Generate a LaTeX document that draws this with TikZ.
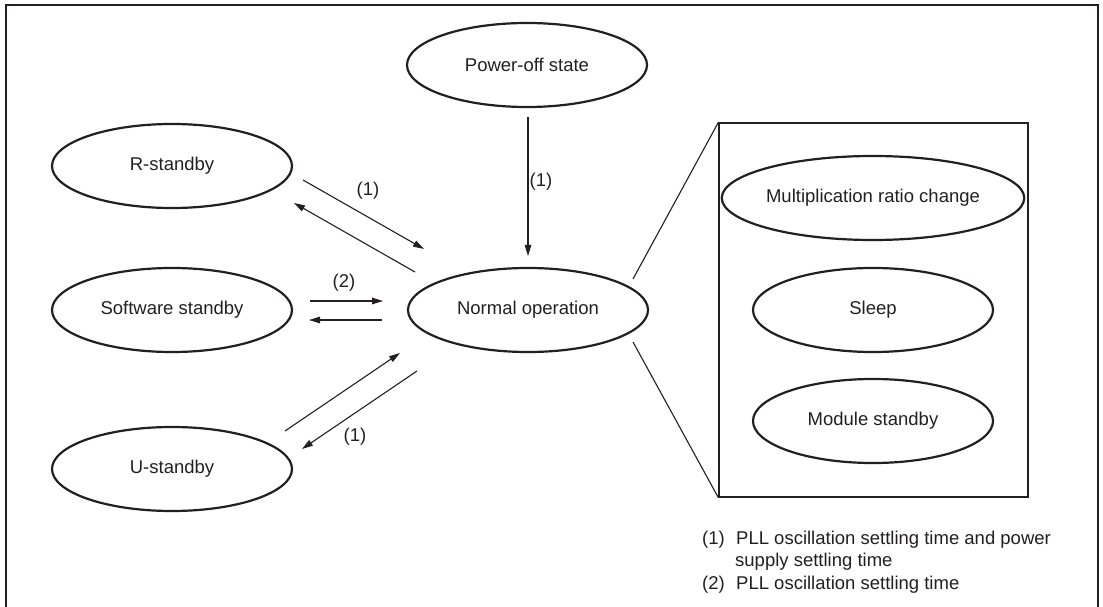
\documentclass[tikz,border=0pt]{standalone}
\usepackage{fontspec}
\setmainfont{Liberation Sans}
\usetikzlibrary{shapes.geometric,arrows.meta}
\definecolor{ink}{HTML}{231F20}
\tikzset{
  state/.style={ellipse, draw=ink, line width=2.2bp, minimum width=240bp, minimum height=84bp, inner sep=0pt, text=ink, font=\fontsize{18.5bp}{22bp}\selectfont},
  conn/.style={draw=ink, line width=1.1bp, -{Triangle[length=11bp,width=6.5bp]}},
  zoomline/.style={draw=ink, line width=1.1bp},
  lbl/.style={text=ink, font=\fontsize{18.5bp}{22bp}\selectfont, inner sep=0pt},
  legend/.style={text=ink, font=\fontsize{18.5bp}{22bp}\selectfont, inner sep=0pt, anchor=base west},
}
\begin{document}
\begin{tikzpicture}[x=1bp,y=-1bp]
\useasboundingbox (0,0) rectangle (1103,607);
% frame (open at bottom)
\draw[ink, line width=2.6bp] (6,607) -- (6,5) -- (1098,5) -- (1098,607);

% states
\node[state] (po) at (527,65) {Power-off state};
\node[state] (rs) at (172,166) {R-standby};
\node[state] (ss) at (172,310) {Software standby};
\node[state] (us) at (172,469) {U-standby};
\node[state] (no) at (528,310) {Normal operation};

% zoom box
\node[draw=ink, line width=1.3bp, minimum width=309bp, minimum height=374bp, inner sep=0pt] (box) at (873.5,310) {};
\node[state] (mr) at (873,198) {Multiplication ratio change};
\node[state] (sl) at (873,310) {Sleep};
\node[state] (ms) at (873,421) {Module standby};

% connector end points
\coordinate (p1) at (528,117);
\coordinate (p2) at (528,256);
\coordinate (r1) at (303,180);
\coordinate (r2) at (424,249);
\coordinate (r3) at (415,272);
\coordinate (r4) at (294,203);
\coordinate (s1) at (310,301);
\coordinate (s2) at (383,301);
\coordinate (s3) at (382,320);
\coordinate (s4) at (309,320);
\coordinate (u1) at (285,431);
\coordinate (u2) at (400,353);
\coordinate (u3) at (417,371);
\coordinate (u4) at (302,449);
\coordinate (z1) at (633,279);
\coordinate (z2) at (633,342);

\draw[conn] (p1) -- (p2);
\draw[conn] (r1) -- (r2);
\draw[conn] (r3) -- (r4);
\draw[conn] (s1) -- (s2);
\draw[conn] (s3) -- (s4);
\draw[conn] (u1) -- (u2);
\draw[conn] (u3) -- (u4);
\draw[zoomline] (z1) -- (box.north west);
\draw[zoomline] (z2) -- (box.south west);

% labels
\node[lbl] (lp) at (541,182) {(1)};
\node[lbl] (lr) at (368,191) {(1)};
\node[lbl] (ls) at (344,283) {(2)};
\node[lbl] (lu) at (355,437) {(1)};

% legend
\node[legend] (n1) at (702,544) {(1)};
\node[legend] (t1) at (736,544) {PLL oscillation settling time and power};
\node[legend] (t1b) at (735,566) {supply settling time};
\node[legend] (n2) at (702,589) {(2)};
\node[legend] (t2) at (736,589) {PLL oscillation settling time};
\end{tikzpicture}
\end{document}
